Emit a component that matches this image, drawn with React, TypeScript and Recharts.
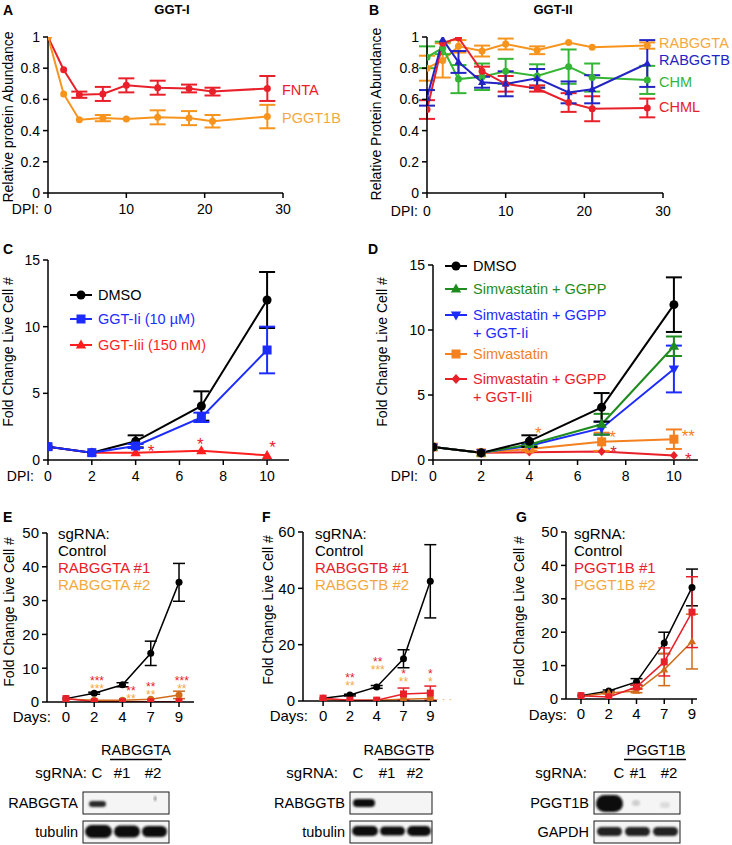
import React from 'react'
import { LineChart, Line, XAxis, YAxis, ErrorBar, ReferenceDot } from 'recharts'

const FONT = '"Liberation Sans", Arial, Helvetica, sans-serif'

const BLACK = '#000000'
const RED = '#e8202a'
const ORANGE = '#f7941d'
const ORANGE_TXT = '#f4a93e'
const BLUE_B = '#2424c4'
const GREEN_B = '#35b535'
const BLUE = '#1c2cff'
const GREEN = '#1e8c1e'
const ORANGE_D = '#f5801f'
const BROWN = '#cf6d1c'

// ---- A: GGT-I
const dpiA = [0, 2, 4, 7, 10, 14, 18, 21, 28]
const fnta = [1, 0.79, 0.63, 0.635, 0.69, 0.675, 0.67, 0.65, 0.67]
const fntaErr = [0, 0, 0.02, 0.045, 0.045, 0.045, 0.025, 0.025, 0.08]
const pggt1b = [1, 0.635, 0.47, 0.48, 0.475, 0.485, 0.48, 0.46, 0.49]
const pggt1bErr = [0, 0, 0, 0.02, 0, 0.045, 0.045, 0.04, 0.075]

// ---- B: GGT-II
const dpiB = [0, 2, 4, 7, 10, 14, 18, 21, 28]
const rabggta = [0.8, 0.85, 0.94, 0.91, 0.955, 0.915, 0.965, 0.935, 0.945]
const rabggtaErr = [0.08, 0.11, 0.04, 0.035, 0.035, 0.025, 0, 0, 0.02]
const rabggtb = [0.61, 0.985, 0.84, 0.71, 0.7, 0.735, 0.645, 0.665, 0.83]
const rabggtbErr = [0.05, 0, 0.07, 0.035, 0.08, 0.06, 0.07, 0.09, 0.15]
const chm = [0.87, 0.93, 0.73, 0.745, 0.78, 0.75, 0.81, 0.74, 0.725]
const chmErr = [0.07, 0.04, 0.09, 0.085, 0.08, 0.075, 0.11, 0.09, 0.09]
const chml = [0.535, 0.96, 0.995, 0.78, 0.7, 0.67, 0.58, 0.54, 0.545]
const chmlErr = [0.06, 0, 0, 0.03, 0.05, 0.02, 0.06, 0.08, 0.06]

// ---- C: GGT inhibitors
const dpiC = [0, 2, 4, 7, 10]
const dmsoC = [1, 0.55, 1.4, 4.05, 12.0]
const dmsoCErr = [0, 0, 0.45, 1.1, 2.1]
const ggtIiC = [1, 0.55, 1.05, 3.2, 8.25]
const ggtIiCErr = [0, 0, 0.15, 0.35, 1.75]
const ggtIiiC = [1, 0.55, 0.55, 0.7, 0.35]
const starsC = [
  { x: 4.7, y: 0.7, t: '*', c: RED },
  { x: 6.95, y: 1.2, t: '*', c: RED },
  { x: 10.25, y: 1.0, t: '*', c: RED },
]

// ---- D: simvastatin rescue
const dpiD = [0, 2, 4, 7, 10]
const dmsoD = [1, 0.55, 1.45, 4.05, 11.95]
const dmsoDErr = [0, 0, 0.45, 1.1, 2.1]
const simGgpp = [1, 0.55, 1.2, 2.75, 8.75]
const simGgppErr = [0, 0, 0.1, 0.8, 0.75]
const simGgppIi = [1, 0.55, 1.1, 2.45, 7.0]
const simGgppIiErr = [0, 0, 0.1, 0.5, 1.8]
const sim = [1, 0.55, 0.85, 1.4, 1.6]
const simErr = [0, 0, 0.15, 0.7, 0.75]
const simGgppIIi = [1, 0.55, 0.6, 0.65, 0.35]
const starsD = [
  { x: 4.37, y: 2.1, t: '*', c: ORANGE_D },
  { x: 7.45, y: 1.8, t: '*', c: ORANGE_D },
  { x: 7.5, y: 0.6, t: '*', c: RED },
  { x: 10.6, y: 1.85, t: '**', c: ORANGE_D },
  { x: 10.6, y: 0.1, t: '*', c: RED },
]

// ---- E/F/G: sgRNA knockouts (x = position of day label)
const days = ['0', '2', '4', '7', '9']
const ctrlE = [1, 2.6, 5.1, 14.4, 35.4]
const ctrlEErr = [0, 0.3, 0.6, 3.6, 5.6]
const rabggta1 = [1, 0.1, 0.1, 0.1, 0.1]
const rabggta2 = [0.9, 0.5, 0.5, 0.8, 2.1]
const rabggta2Err = [0, 0, 0, 0, 1.1]
const starsE = [
  { x: 1.1, y: 6.2, t: '***', c: RED }, { x: 1.1, y: 4.0, t: '***', c: ORANGE_TXT },
  { x: 2.3, y: 3.2, t: '**', c: RED }, { x: 2.3, y: 1.1, t: '**', c: ORANGE_TXT },
  { x: 3.0, y: 4.4, t: '**', c: RED }, { x: 3.0, y: 2.1, t: '**', c: ORANGE_TXT },
  { x: 4.1, y: 6.2, t: '***', c: RED }, { x: 4.1, y: 3.8, t: '**', c: ORANGE_TXT },
]

const ctrlF = [1, 2.1, 5.0, 15.0, 42.5]
const ctrlFErr = [0, 0.3, 0.5, 3.2, 13]
const rabggtb1 = [1, 0.3, 0.3, 2.5, 2.8]
const rabggtb1Err = [0, 0, 0, 2.1, 2.5]
const rabggtb2 = [0.6, 0.2, 0.3, 0.6, 0.9]
const starsF = [
  { x: 1.0, y: 8.2, t: '**', c: RED }, { x: 1.0, y: 5.3, t: '**', c: ORANGE_TXT },
  { x: 2.04, y: 13.8, t: '**', c: RED }, { x: 2.04, y: 11.1, t: '***', c: ORANGE_TXT },
  { x: 3.0, y: 9.6, t: '*', c: RED }, { x: 3.0, y: 6.7, t: '**', c: ORANGE_TXT },
  { x: 4.0, y: 9.6, t: '*', c: RED }, { x: 4.0, y: 6.7, t: '*', c: ORANGE_TXT },
]

const ctrlG = [1, 2.4, 5.1, 16.8, 33.4]
const ctrlGErr = [0, 0.3, 1.0, 3.2, 5.5]
const pggt1b1 = [1, 0.6, 3.6, 11.1, 26.0]
const pggt1b1Err = [0, 0, 0.5, 4.2, 10.6]
const pggt1b2 = [0.8, 1.8, 2.4, 8.8, 17.2]
const pggt1b2Err = [0, 0.3, 0.5, 4.8, 8.2]

const rowsA = dpiA.map((x, i) => ({ x, fnta: fnta[i], fntaErr: fntaErr[i], pggt1b: pggt1b[i], pggt1bErr: pggt1bErr[i] }))
const rowsB = dpiB.map((x, i) => ({
  x, rabggta: rabggta[i], rabggtaErr: rabggtaErr[i], rabggtb: rabggtb[i], rabggtbErr: rabggtbErr[i],
  chm: chm[i], chmErr: chmErr[i], chml: chml[i], chmlErr: chmlErr[i],
}))
const rowsC = dpiC.map((x, i) => ({ x, dmso: dmsoC[i], dmsoErr: dmsoCErr[i], ii: ggtIiC[i], iiErr: ggtIiCErr[i], iii: ggtIiiC[i] }))
const rowsD = dpiD.map((x, i) => ({
  x, dmso: dmsoD[i], dmsoErr: dmsoDErr[i], sg: simGgpp[i], sgErr: simGgppErr[i],
  sgi: simGgppIi[i], sgiErr: simGgppIiErr[i], s: sim[i], sErr: simErr[i], sgii: simGgppIIi[i],
}))
const rowsE = days.map((_, i) => ({ x: i, c: ctrlE[i], cErr: ctrlEErr[i], k1: rabggta1[i], k2: rabggta2[i], k2Err: rabggta2Err[i] }))
const rowsF = days.map((_, i) => ({ x: i, c: ctrlF[i], cErr: ctrlFErr[i], k1: rabggtb1[i], k1Err: rabggtb1Err[i], k2: rabggtb2[i] }))
const rowsG = days.map((_, i) => ({ x: i, c: ctrlG[i], cErr: ctrlGErr[i], k1: pggt1b1[i], k1Err: pggt1b1Err[i], k2: pggt1b2[i], k2Err: pggt1b2Err[i] }))

type Shape = 'circle' | 'square' | 'up' | 'down' | 'diamond'

function marker(shape: Shape, cx: number, cy: number, s: number, color: string, key?: string) {
  switch (shape) {
    case 'square':
      return <rect key={key} x={cx - s} y={cy - s} width={2 * s} height={2 * s} fill={color} />
    case 'up':
      return <path key={key} d={`M${cx},${cy - s * 1.2}L${cx + s * 1.15},${cy + s * 0.8}L${cx - s * 1.15},${cy + s * 0.8}Z`} fill={color} />
    case 'down':
      return <path key={key} d={`M${cx},${cy + s * 1.2}L${cx + s * 1.15},${cy - s * 0.8}L${cx - s * 1.15},${cy - s * 0.8}Z`} fill={color} />
    case 'diamond':
      return <path key={key} d={`M${cx},${cy - s * 1.1}L${cx + s},${cy}L${cx},${cy + s * 1.1}L${cx - s},${cy}Z`} fill={color} />
    default:
      return <circle key={key} cx={cx} cy={cy} r={s} fill={color} />
  }
}

const dotOf = (shape: Shape, s: number, color: string) => (p: any) =>
  p.cx == null || p.cy == null ? <g key={`e${p.index}`} /> : marker(shape, p.cx, p.cy, s, color, `d${p.index}`)

function series(key: string, color: string, shape: Shape, size: number, errKey?: string, width = 2, cap = 8) {
  return (
    <Line
      key={key}
      dataKey={key}
      stroke={color}
      strokeWidth={width}
      dot={dotOf(shape, size, color)}
      activeDot={false}
      isAnimationActive={false}
    >
      {errKey && <ErrorBar dataKey={errKey} direction="y" width={cap} stroke={color} strokeWidth={width} isAnimationActive={false} />}
    </Line>
  )
}

function stars(list: { x: number; y: number; t: string; c: string }[], size: number) {
  return list.map((s, i) => (
    <ReferenceDot
      key={`s${i}`}
      x={s.x}
      y={s.y}
      r={0}
      fill="none"
      stroke="none"
      ifOverflow="visible"
      label={{ value: s.t, position: 'center', fill: s.c, fontSize: size, fontFamily: FONT }}
    />
  ))
}

type PlotProps = {
  left: number
  top: number
  width: number
  height: number
  xDomain: [number, number]
  yDomain: [number, number]
  xTicks: number[]
  yTicks: number[]
  data: any[]
  xFmt?: (v: number) => string
  fontSize?: number
  tickMargin?: number
  children: React.ReactNode
}

const YW = 46
const MT = 10
const MR = 16
const XH = 34

function Plot(p: PlotProps) {
  const axis = { stroke: BLACK, strokeWidth: 1.5 }
  const tick = { fill: BLACK, fontSize: p.fontSize ?? 14, fontFamily: FONT }
  return (
    <div style={{ position: 'absolute', left: p.left - YW, top: p.top - MT }}>
      <LineChart
        width={YW + p.width + MR}
        height={MT + p.height + XH}
        data={p.data}
        margin={{ top: MT, right: MR, bottom: 0, left: 0 }}
      >
        <XAxis
          dataKey="x"
          type="number"
          domain={p.xDomain}
          ticks={p.xTicks}
          tickFormatter={p.xFmt}
          height={XH}
          axisLine={axis}
          tickLine={axis}
          tick={tick}
          tickSize={5}
          tickMargin={p.tickMargin ?? 6}
          interval={0}
          allowDataOverflow
        />
        <YAxis
          type="number"
          domain={p.yDomain}
          ticks={p.yTicks}
          width={YW}
          axisLine={axis}
          tickLine={axis}
          tick={tick}
          tickSize={5}
          tickMargin={3}
          interval={0}
          allowDataOverflow
        />
        {p.children}
      </LineChart>
    </div>
  )
}

function Txt({ x, y, c = BLACK, s = 14, a = 'start', w, children }: any) {
  return (
    <text x={x} y={y} fill={c} fontSize={s} textAnchor={a} fontWeight={w} fontFamily={FONT}>
      {children}
    </text>
  )
}

function VTxt({ x, y, s = 14, children }: any) {
  return (
    <text transform={`translate(${x},${y}) rotate(-90)`} textAnchor="middle" dominantBaseline="central" fontSize={s} fontFamily={FONT} fill={BLACK}>
      {children}
    </text>
  )
}

function LegendRow({ x, y, color, shape, s = 4.5, label }: any) {
  return (
    <g>
      <line x1={x} x2={x + 22} y1={y} y2={y} stroke={color} strokeWidth={2} />
      {marker(shape, x + 11, y, s, color)}
      <Txt x={x + 28} y={y + 5} c={color} s={14.5}>{label}</Txt>
    </g>
  )
}

function Band({ x, y, w, h, c = '#111', o = 1 }: any) {
  return <rect x={x} y={y} width={w} height={h} rx={h / 2} fill={c} opacity={o} filter="url(#bl)" />
}

function Blot({ x, y, w, h }: any) {
  return <rect x={x} y={y} width={w} height={h} fill="#f5f5f5" stroke="#1a1a1a" strokeWidth={1} />
}

function WesternBlot({ title, tx, lx1, lx2, sgEnd, cx, c1, c2, bx, bw, lab1, lab2, bands1, bands2 }: any) {
  return (
    <g>
      <Txt x={tx} y={755} a="middle" s={14.5}>{title}</Txt>
      <line x1={lx1} x2={lx2} y1={759.5} y2={759.5} stroke={BLACK} strokeWidth={1.5} />
      <Txt x={sgEnd} y={778} a="end" s={15}>sgRNA:</Txt>
      <Txt x={cx} y={778} a="middle" s={15}>C</Txt>
      <Txt x={c1} y={778} a="middle" s={15}>#1</Txt>
      <Txt x={c2} y={778} a="middle" s={15}>#2</Txt>
      <Blot x={bx} y={792} w={bw} h={22} />
      <Blot x={bx} y={821} w={bw} h={22} />
      <Txt x={bx - 5} y={808} a="end" s={14.5}>{lab1}</Txt>
      <Txt x={bx - 5} y={837} a="end" s={14.5}>{lab2}</Txt>
      {bands1}
      {bands2}
    </g>
  )
}

function Overlay() {
  return (
    <svg width={732} height={845} style={{ position: 'absolute', left: 0, top: 0 }}>
      <defs>
        <filter id="bl" x="-20%" y="-50%" width="140%" height="200%">
          <feGaussianBlur stdDeviation="0.9" />
        </filter>
      </defs>

      {/* panel letters and titles */}
      <Txt x={3} y={15} w="bold" s={14}>A</Txt>
      <Txt x={369} y={15} w="bold" s={14}>B</Txt>
      <Txt x={3} y={254} w="bold" s={14}>C</Txt>
      <Txt x={368} y={254} w="bold" s={14}>D</Txt>
      <Txt x={3} y={522} w="bold" s={14}>E</Txt>
      <Txt x={262} y={522} w="bold" s={14}>F</Txt>
      <Txt x={516} y={522} w="bold" s={14}>G</Txt>
      <Txt x={172} y={14} a="middle" w="bold" s={13}>GGT-I</Txt>
      <Txt x={553} y={14} a="middle" w="bold" s={13}>GGT-II</Txt>

      {/* axis titles */}
      <VTxt x={8} y={117}>Relative protein Abundance</VTxt>
      <VTxt x={376} y={114}>Relative Protein Abundance</VTxt>
      <VTxt x={8} y={352}>Fold Change Live Cell #</VTxt>
      <VTxt x={382} y={352}>Fold Change Live Cell #</VTxt>
      <VTxt x={9} y={612}>Fold Change Live Cell #</VTxt>
      <VTxt x={268} y={610}>Fold Change Live Cell #</VTxt>
      <VTxt x={519} y={611}>Fold Change Live Cell #</VTxt>

      <Txt x={39} y={214} a="end">DPI:</Txt>
      <Txt x={418} y={216} a="end">DPI:</Txt>
      <Txt x={34} y={481} a="end">DPI:</Txt>
      <Txt x={418} y={481} a="end">DPI:</Txt>
      <Txt x={51} y={722} a="end" s={15}>Days:</Txt>
      <Txt x={308} y={721} a="end" s={15}>Days:</Txt>
      <Txt x={567} y={720} a="end" s={15}>Days:</Txt>

      {/* A / B labels */}
      <Txt x={282} y={95} c={RED} s={14.5}>FNTA</Txt>
      <Txt x={282} y={123} c={ORANGE_TXT} s={14.5}>PGGT1B</Txt>
      <Txt x={659} y={48} c={ORANGE_TXT} s={14.5}>RABGGTA</Txt>
      <Txt x={659} y={65} c={BLUE_B} s={14.5}>RABGGTB</Txt>
      <Txt x={659} y={87} c={GREEN_B} s={14.5}>CHM</Txt>
      <Txt x={659} y={112} c={RED} s={14.5}>CHML</Txt>

      {/* C legend */}
      <LegendRow x={70} y={295} color={BLACK} shape="circle" label="DMSO" />
      <LegendRow x={70} y={319} color={BLUE} shape="square" label="GGT-Ii (10 µM)" />
      <LegendRow x={70} y={345} color="#ff1f1f" shape="up" label="GGT-Iii (150 nM)" />

      {/* D legend */}
      <LegendRow x={445} y={266} color={BLACK} shape="circle" label="DMSO" />
      <LegendRow x={445} y={289} color={GREEN} shape="up" label="Simvastatin + GGPP" />
      <LegendRow x={445} y={315} color={BLUE} shape="down" label="Simvastatin + GGPP" />
      <Txt x={473} y={338} c={BLUE} s={14.5}>+ GGT-Ii</Txt>
      <LegendRow x={445} y={354} color={ORANGE_D} shape="square" label="Simvastatin" />
      <LegendRow x={445} y={379} color={RED} shape="diamond" label="Simvastatin + GGPP" />
      <Txt x={473} y={402} c={RED} s={14.5}>+ GGT-IIi</Txt>

      {/* E/F/G legends */}
      {[
        { x: 58, k: 'RABGGTA' },
        { x: 315, k: 'RABGGTB' },
        { x: 574, k: 'PGGT1B' },
      ].map((l) => (
        <g key={l.k}>
          <Txt x={l.x} y={539} s={15}>sgRNA:</Txt>
          <Txt x={l.x} y={556} s={15}>Control</Txt>
          <Txt x={l.x} y={573} c={RED} s={15}>{l.k} #1</Txt>
          <Txt x={l.x} y={590} c={ORANGE_TXT} s={15}>{l.k} #2</Txt>
        </g>
      ))}

      {/* western blots */}
      <WesternBlot
        title="RABGGTA" tx={136} lx1={110} lx2={162} sgEnd={87} cx={97} c1={122} c2={153}
        bx={83} bw={86} lab1="RABGGTA" lab2="tubulin"
        bands1={<g><Band x={89} y={801} w={17} h={6} c="#2a2a2a" /><Band x={154} y={796} w={2.5} h={5} c="#888" /></g>}
        bands2={<g><Band x={85} y={825} w={27} h={13} /><Band x={114} y={825.5} w={26} h={12} /><Band x={142} y={826} w={25} h={11} /></g>}
      />
      <WesternBlot
        title="RABGGTB" tx={399} lx1={378} lx2={430} sgEnd={338} cx={358} c1={387} c2={415}
        bx={350} bw={82} lab1="RABGGTB" lab2="tubulin"
        bands1={<g><Band x={353} y={799} w={22} h={8} /></g>}
        bands2={<g><Band x={352} y={826} w={26} h={10} /><Band x={380} y={826.5} w={25} h={9} /><Band x={407} y={826} w={24} h={10} /></g>}
      />
      <WesternBlot
        title="PGGT1B" tx={656} lx1={624} lx2={686} sgEnd={587} cx={619} c1={638} c2={669}
        bx={594} bw={86} lab1="PGGT1B" lab2="GAPDH"
        bands1={<g><Band x={596} y={795} w={27} h={17} c="#0a0a0a" /><Band x={632} y={800} w={8} h={6} c="#cfcfcf" /><Band x={660} y={802} w={10} h={6} c="#dcdcdc" /></g>}
        bands2={<g><Band x={597} y={827} w={25} h={9} c="#222" /><Band x={625} y={827} w={25} h={9} c="#222" /><Band x={653} y={827} w={25} h={9} c="#222" /></g>}
      />
    </svg>
  )
}

const dayFmt = (v: number) => days[v] ?? ''

export default function App() {
  return (
    <div style={{ position: 'absolute', left: 0, top: 0, width: 732, height: 845, background: '#fff', overflow: 'hidden', fontFamily: FONT }}>
      <Overlay />

      {/* A */}
      <Plot left={48} top={37} width={235} height={156} xDomain={[0, 30]} yDomain={[0, 1]}
        xTicks={[0, 10, 20, 30]} yTicks={[0, 0.2, 0.4, 0.6, 0.8, 1]} data={rowsA} tickMargin={6}>
        {series('fnta', RED, 'circle', 3.5, 'fntaErr')}
        {series('pggt1b', ORANGE, 'circle', 3.5, 'pggt1bErr')}
      </Plot>

      {/* B */}
      <Plot left={427} top={37} width={236} height={156} xDomain={[0, 30]} yDomain={[0, 1]}
        xTicks={[0, 10, 20, 30]} yTicks={[0, 0.2, 0.4, 0.6, 0.8, 1]} data={rowsB} tickMargin={8}>
        {series('rabggta', ORANGE, 'circle', 3.5, 'rabggtaErr')}
        {series('chm', GREEN_B, 'circle', 3.5, 'chmErr')}
        {series('chml', RED, 'circle', 3.5, 'chmlErr')}
        {series('rabggtb', BLUE_B, 'up', 3.5, 'rabggtbErr')}
      </Plot>

      {/* C */}
      <Plot left={48} top={260} width={241} height={200} xDomain={[0, 11]} yDomain={[0, 15]}
        xTicks={[0, 2, 4, 6, 8, 10]} yTicks={[0, 5, 10, 15]} data={rowsC} tickMargin={6}>
        {series('iii', '#ff1f1f', 'up', 4.5)}
        {series('dmso', BLACK, 'circle', 4.5, 'dmsoErr')}
        {series('ii', BLUE, 'square', 4.5, 'iiErr')}
        {stars(starsC, 17)}
      </Plot>

      {/* D */}
      <Plot left={433} top={265} width={265} height={195} xDomain={[0, 11]} yDomain={[0, 15]}
        xTicks={[0, 2, 4, 6, 8, 10]} yTicks={[0, 5, 10, 15]} data={rowsD} tickMargin={6}>
        {series('sgii', RED, 'diamond', 4)}
        {series('s', ORANGE_D, 'square', 4.5, 'sErr')}
        {series('sgi', BLUE, 'down', 4.5, 'sgiErr')}
        {series('sg', GREEN, 'up', 4.5, 'sgErr')}
        {series('dmso', BLACK, 'circle', 4.5, 'dmsoErr')}
        {stars(starsD, 17)}
      </Plot>

      {/* E */}
      <Plot left={47} top={533} width={147} height={169} xDomain={[-0.67, 4.53]} yDomain={[0, 50]}
        xTicks={[0, 1, 2, 3, 4]} yTicks={[0, 10, 20, 30, 40, 50]} data={rowsE} xFmt={dayFmt} fontSize={15} tickMargin={4}>
        {series('c', BLACK, 'circle', 3.5, 'cErr', 1.5, 6)}
        {series('k2', BROWN, 'circle', 3.5, 'k2Err', 1.5, 6)}
        {series('k1', RED, 'square', 3.5, undefined, 1.5, 6)}
        {stars(starsE, 12)}
      </Plot>

      {/* F */}
      <Plot left={303} top={532} width={134} height={169} xDomain={[-0.75, 4.25]} yDomain={[0, 60]}
        xTicks={[0, 1, 2, 3, 4]} yTicks={[0, 20, 40, 60]} data={rowsF} xFmt={dayFmt} fontSize={15} tickMargin={4}>
        {series('c', BLACK, 'circle', 3.5, 'cErr', 1.5, 6)}
        {series('k2', BROWN, 'circle', 3.5, undefined, 1.5, 6)}
        {series('k1', RED, 'square', 3.5, 'k1Err', 1.5, 6)}
        {stars(starsF, 12)}
        <ReferenceDot x={4.5} y={0.6} r={0} fill="none" stroke="none" ifOverflow="visible"
          label={{ value: '· · ·', position: 'center', fill: ORANGE_TXT, fontSize: 11 }} />
      </Plot>

      {/* G */}
      <Plot left={566} top={532} width={131} height={167} xDomain={[-0.54, 4.18]} yDomain={[0, 50]}
        xTicks={[0, 1, 2, 3, 4]} yTicks={[0, 10, 20, 30, 40, 50]} data={rowsG} xFmt={dayFmt} fontSize={15} tickMargin={4}>
        {series('c', BLACK, 'circle', 3.5, 'cErr', 1.5, 6)}
        {series('k2', BROWN, 'up', 3.5, 'k2Err', 1.5, 6)}
        {series('k1', RED, 'square', 3.5, 'k1Err', 1.5, 6)}
      </Plot>
    </div>
  )
}
